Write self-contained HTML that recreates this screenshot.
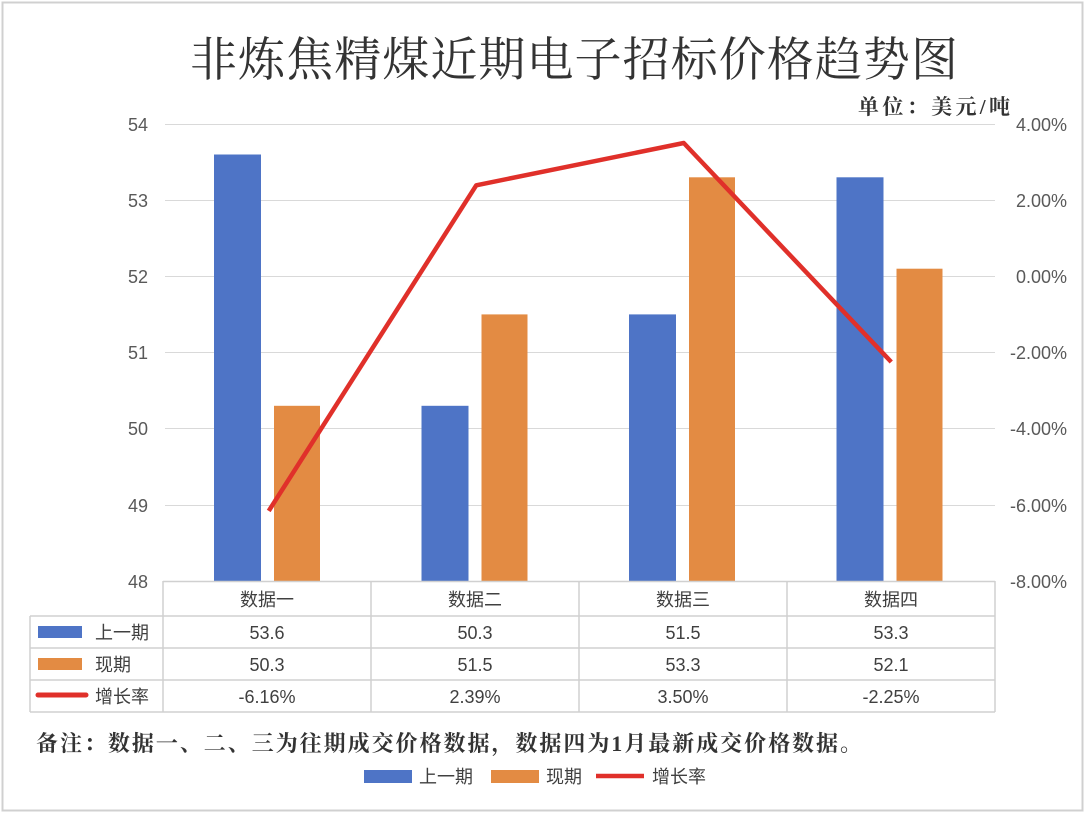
<!DOCTYPE html><html><head><meta charset="utf-8"><style>body{margin:0;background:#fff}svg{display:block}text{font-family:"Liberation Sans","Noto Sans CJK SC",sans-serif}text.serif{font-family:"Liberation Serif","Noto Serif CJK SC",serif}</style></head><body>
<svg width="1085" height="813" viewBox="0 0 1085 813" xmlns="http://www.w3.org/2000/svg">
<rect x="2.5" y="2.5" width="1080" height="808" fill="#fff" stroke="#d0d0d0" stroke-width="2"/>
<text class="serif" x="574" y="76" font-size="47" text-anchor="middle" fill="#333" textLength="768" lengthAdjust="spacing">非炼焦精煤近期电子招标价格趋势图</text>
<text class="serif" x="858" y="114" font-size="21" fill="#333" font-weight="bold" textLength="152" lengthAdjust="spacing">单位：美元/吨</text>
<g stroke="#d9d9d9" stroke-width="1">
<line x1="165" x2="995" y1="124.5" y2="124.5"/><line x1="165" x2="995" y1="200.5" y2="200.5"/><line x1="165" x2="995" y1="276.5" y2="276.5"/><line x1="165" x2="995" y1="352.5" y2="352.5"/><line x1="165" x2="995" y1="428.5" y2="428.5"/><line x1="165" x2="995" y1="505.5" y2="505.5"/>
</g>
<g font-size="18" fill="#595959" text-anchor="end">
<text x="148" y="131">54</text><text x="148" y="207">53</text><text x="148" y="283">52</text><text x="148" y="359">51</text><text x="148" y="435">50</text><text x="148" y="512">49</text><text x="148" y="588">48</text>
</g>
<g font-size="18" fill="#595959" text-anchor="end">
<text x="1067" y="131">4.00%</text><text x="1067" y="207">2.00%</text><text x="1067" y="283">0.00%</text><text x="1067" y="359">-2.00%</text><text x="1067" y="435">-4.00%</text><text x="1067" y="512">-6.00%</text><text x="1067" y="588">-8.00%</text>
</g>
<g fill="#4e74c6">
<rect x="214" y="154.5" width="47" height="426.5"/><rect x="421.5" y="405.8" width="47" height="175.2"/><rect x="629" y="314.4" width="47" height="266.6"/><rect x="836.5" y="177.3" width="47" height="403.7"/>
</g>
<g fill="#e38b43">
<rect x="274" y="405.8" width="46" height="175.2"/><rect x="481.5" y="314.4" width="46" height="266.6"/><rect x="689" y="177.3" width="46" height="403.7"/><rect x="896.5" y="268.7" width="46" height="312.3"/>
</g>
<polyline points="268.75,510.9 476.25,185.3 683.75,143 891.25,362" fill="none" stroke="#e0302a" stroke-width="4.5" stroke-linejoin="round"/>
<g stroke="#d0d0d0" stroke-width="1.5" fill="none">
<line x1="163" x2="995" y1="581.5" y2="581.5"/>
<line x1="30" x2="995" y1="616" y2="616"/><line x1="30" x2="995" y1="648" y2="648"/><line x1="30" x2="995" y1="680" y2="680"/><line x1="30" x2="995" y1="712" y2="712"/>
<line x1="30" x2="30" y1="616" y2="712"/><line x1="163" x2="163" y1="581" y2="712"/><line x1="371" x2="371" y1="581" y2="712"/><line x1="579" x2="579" y1="581" y2="712"/><line x1="787" x2="787" y1="581" y2="712"/><line x1="995" x2="995" y1="581" y2="712"/>
</g>
<g font-size="18" fill="#404040" text-anchor="middle">
<text x="267" y="606">数据一</text><text x="475" y="606">数据二</text><text x="683" y="606">数据三</text><text x="891" y="606">数据四</text>
<text x="267" y="639">53.6</text><text x="475" y="639">50.3</text><text x="683" y="639">51.5</text><text x="891" y="639">53.3</text>
<text x="267" y="671">50.3</text><text x="475" y="671">51.5</text><text x="683" y="671">53.3</text><text x="891" y="671">52.1</text>
<text x="267" y="703">-6.16%</text><text x="475" y="703">2.39%</text><text x="683" y="703">3.50%</text><text x="891" y="703">-2.25%</text>
</g>
<rect x="38" y="626" width="44" height="12" fill="#4e74c6"/><rect x="38" y="658" width="44" height="12" fill="#e38b43"/>
<line x1="38" x2="86" y1="695" y2="695" stroke="#e0302a" stroke-width="5" stroke-linecap="round"/>
<g font-size="18" fill="#404040"><text x="95" y="639">上一期</text><text x="95" y="671">现期</text><text x="95" y="703">增长率</text></g>
<text class="serif" x="36" y="751" font-size="22" font-weight="bold" fill="#333" textLength="826" lengthAdjust="spacing">备注：数据一、二、三为往期成交价格数据，数据四为1月最新成交价格数据。</text>
<rect x="364" y="770" width="48" height="13" fill="#4e74c6"/><text x="419" y="783" font-size="18" fill="#404040">上一期</text>
<rect x="491" y="770" width="48" height="13" fill="#e38b43"/><text x="546" y="783" font-size="18" fill="#404040">现期</text>
<line x1="596" x2="644" y1="776" y2="776" stroke="#e0302a" stroke-width="4.5"/><text x="652" y="783" font-size="18" fill="#404040">增长率</text>
</svg></body></html>
